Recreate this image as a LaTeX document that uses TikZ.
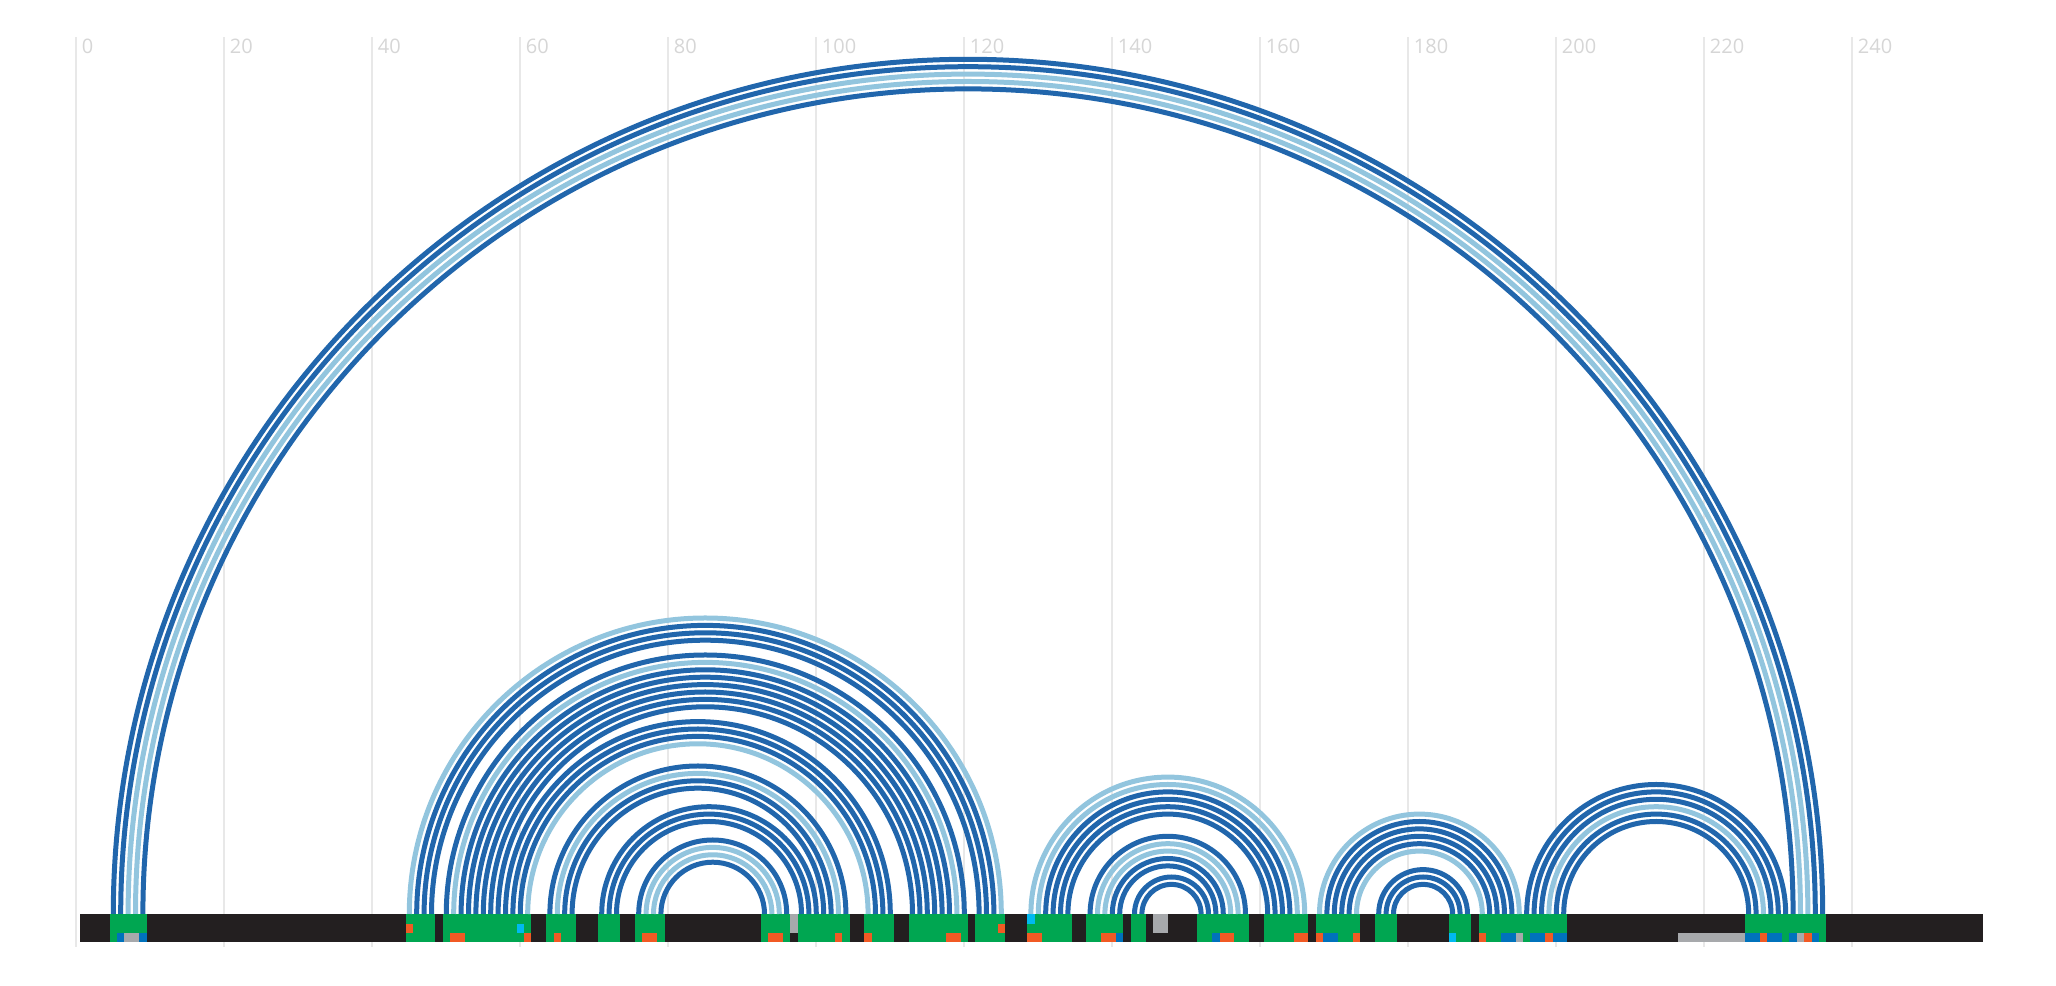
\documentclass[tikz,border=0pt]{standalone}
\usepackage{fontspec}
\setsansfont{Open Sans}
\definecolor{arcdark}{HTML}{2166AC}
\definecolor{arclight}{HTML}{92C5DE}
\definecolor{barblack}{HTML}{231F20}
\definecolor{pairgreen}{HTML}{00A651}
\definecolor{markorange}{HTML}{F15A24}
\definecolor{markcyan}{HTML}{00B9F1}
\definecolor{markblue}{HTML}{0072BC}
\definecolor{markgray}{HTML}{A7A9AC}
\definecolor{gridgray}{HTML}{E8E8E8}
\definecolor{labelgray}{HTML}{D6D6D6}
\tikzset{
  D/.style={draw=arcdark,line width=2.5pt},
  L/.style={draw=arclight,line width=2.5pt},
  gridline/.style={draw=gridgray,line width=1pt},
  axislabel/.style={anchor=west,inner sep=0pt,text=labelgray,font=\sffamily\fontsize{10}{12}\selectfont},
  O/.style={fill=markorange},
  C/.style={fill=markcyan},
  B/.style={fill=markblue},
  G/.style={fill=markgray},
  K/.style={fill=barblack},
  P/.style={fill=pairgreen}
}
\begin{document}
\begin{tikzpicture}[x=3.7pt,y=0.5pt]
\useasboundingbox (-10.311,0) rectangle (267.53,986);
% grid
\foreach \g in {0,20,...,240}{
  \draw[gridline] (\g,39) -- (\g,949);
  \node[axislabel] (lab\g) at (\g+0.7,940) {\g};
}
% bar
\fill[barblack] (0.5,44) rectangle (257.7,72);
% paired (green) ranges
\foreach \a/\b in {5/9,45/48,50/61,64/67,71/73,76/79,93/96,98/104,107/110,113/120,122/125,129/134,137/141,143/144,152/158,161/166,168/173,176/178,186/188,190/201,226/236}{
  \fill[pairgreen] (\a-0.5,44) rectangle (\b+0.5,72);
}
% marks: start/end/ybottom/ytop/style
\foreach \a/\b/\yb/\yt/\s in {
  6/6/44/53/B, 7/8/44/53/G, 9/9/44/53/B,
  45/45/53/62/O, 51/52/44/53/O, 60/60/53/62/C, 61/61/44/53/O, 65/65/44/53/O, 77/78/44/53/O,
  94/95/44/53/O, 97/97/53/72/G, 103/103/44/53/O, 107/107/44/53/O, 118/119/44/53/O, 125/125/53/62/O,
  129/129/62/72/C, 129/130/44/53/O, 139/140/44/53/O, 141/141/44/53/B, 146/147/53/72/G,
  154/154/44/53/B, 155/156/44/53/O, 165/166/44/53/O, 168/168/44/53/O, 169/170/44/53/B, 173/173/44/53/O,
  186/186/44/53/C, 190/190/44/53/O, 193/194/44/53/B, 195/195/44/53/G, 197/198/44/53/B, 199/199/44/53/O, 200/201/44/53/B,
  217/225/44/53/G, 226/227/44/53/B, 228/228/44/53/O, 229/230/44/53/B, 232/232/44/53/B, 233/233/44/53/G, 234/234/44/53/O, 235/235/44/53/B}{
  \fill[\s] (\a-0.5,\yb) rectangle (\b+0.5,\yt);
}
% arcs
\foreach \i/\j/\s in {
  5/236/D, 6/235/D, 7/234/L, 8/233/L, 9/232/D,
  45/125/L, 46/124/D, 47/123/D, 48/122/D,
  50/120/D, 51/119/L, 52/118/D, 53/117/D, 54/116/D, 55/115/D, 56/114/D, 57/113/D,
  58/110/D, 59/109/D, 60/108/D, 61/107/L,
  64/104/D, 65/103/L, 66/102/D, 67/101/D,
  71/100/D, 72/99/D, 73/98/D,
  76/96/D, 77/95/L, 78/94/L, 79/93/D,
  129/166/L, 130/165/L, 131/164/D, 132/163/D, 133/162/D, 134/161/D,
  137/158/D, 138/157/L, 139/156/L, 140/155/D, 141/154/D,
  143/153/D, 144/152/D,
  168/195/L, 169/194/D, 170/193/D, 171/192/D, 172/191/D, 173/190/L,
  176/188/D, 177/187/D, 178/186/D,
  196/231/D, 197/230/D, 198/229/D, 199/228/L, 200/227/D, 201/226/D}{
  \draw[\s] (\i,72) arc[start angle=180,end angle=0,radius={(\j-\i)*1.85pt}];
}
\end{tikzpicture}
\end{document}
